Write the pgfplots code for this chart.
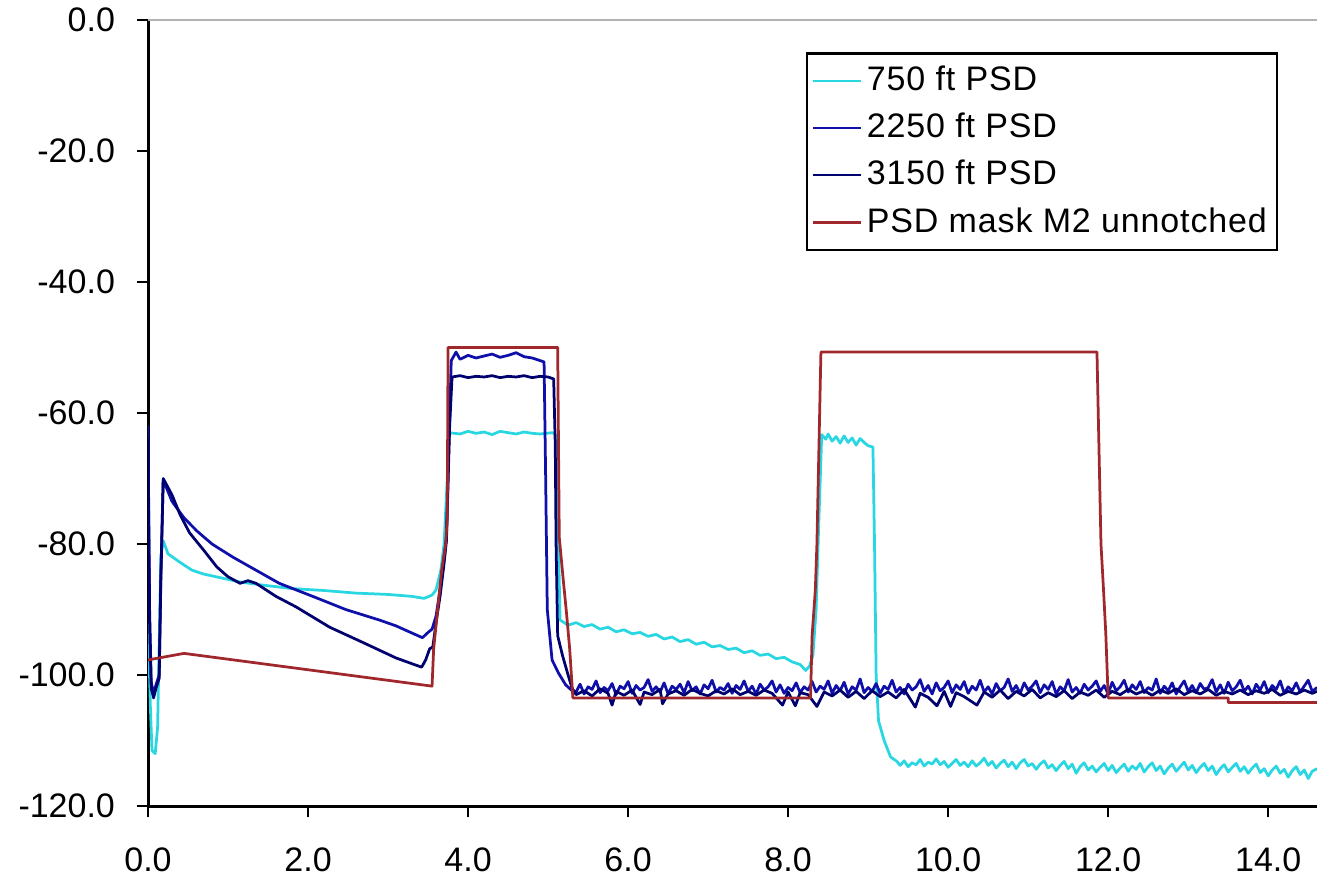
\documentclass[border=0pt]{standalone}
\usepackage{pgfplots}
\pgfplotsset{compat=1.18}
\usepackage{fontspec}
\setmainfont{Liberation Sans}
\newfontfamily\legfont[LetterSpace=2.5]{Liberation Sans}
\definecolor{cyanc}{RGB}{40,215,225}
\definecolor{blueA}{RGB}{15,15,170}
\definecolor{blueB}{RGB}{0,0,110}
\definecolor{maskred}{RGB}{160,40,45}
\begin{document}
\fontsize{13.6}{16}\selectfont
\begin{tikzpicture}
\begin{axis}[
  scale only axis, width=467.6pt, height=314.4pt,
  xmin=0, xmax=14.61, ymin=-120, ymax=0,
  axis lines*=left,
  axis line style={line width=1.2pt, black},
  xtick={0,2,...,14}, ytick={-120,-100,...,0},
  tick align=outside, major tick length=4.5pt,
  tick style={black, line width=0.8pt},
  /pgf/number format/fixed, /pgf/number format/fixed zerofill, /pgf/number format/precision=1,
  /pgf/number format/assume math mode=true,
  ticklabel style={font=\fontsize{13.6}{16}\selectfont},
  yticklabel style={xshift=-4pt},
  xticklabel style={yshift=-7.6pt},
  legend cell align=left,
  legend style={at={(0.9667,0.959)}, anchor=north east, draw=black, line width=1pt,
    font=\legfont\fontsize{13.6}{16}\selectfont, inner xsep=2pt, inner ysep=3pt, row sep=3pt},
  legend image code/.code={\draw[#1, line width=1pt] (0pt,0pt) -- (19pt,0pt);},
  every axis plot/.append style={line width=1.1pt, line join=round, mark=none},
]
\coordinate (bl) at (rel axis cs:0,0);
\draw[gray!60, line width=0.8pt] (rel axis cs:0,1) -- (rel axis cs:1,1);

% 750 ft PSD
\addplot[cyanc] coordinates {
(0,-91)(0.03,-105)(0.05,-111.5)(0.09,-112)(0.12,-108)(0.14,-95)(0.16,-82)(0.19,-79.5)(0.25,-81.5)(0.4,-82.8)(0.55,-84)(0.7,-84.6)(0.85,-85)(1.15,-85.8)(1.45,-86.3)(1.8,-86.8)(2.2,-87.1)(2.6,-87.5)(3.0,-87.7)(3.3,-88)(3.45,-88.3)(3.55,-87.8)(3.6,-87)(3.66,-84)(3.7,-80)(3.74,-70)(3.76,-63)
(3.9,-63.2)(4.0,-62.8)(4.1,-63.1)(4.2,-62.9)(4.3,-63.3)(4.4,-62.8)(4.5,-63)(4.6,-63.2)(4.7,-62.9)(4.8,-63.1)(4.9,-63.2)(5.06,-63)(5.11,-63.5)(5.13,-80)(5.15,-91.6)
(5.25,-92.4)(5.35,-92.0)(5.45,-92.6)(5.55,-92.3)(5.65,-93.0)(5.75,-92.7)(5.85,-93.4)(5.95,-93.1)(6.05,-93.7)(6.15,-93.5)(6.25,-94.1)(6.35,-93.8)(6.45,-94.5)(6.55,-94.2)(6.65,-94.9)(6.75,-94.6)(6.85,-95.3)(6.95,-95.0)(7.05,-95.7)(7.15,-95.5)(7.25,-96.1)(7.35,-95.9)(7.45,-96.6)(7.55,-96.3)(7.65,-97.0)(7.75,-96.8)(7.85,-97.5)(7.95,-97.3)(8.05,-98.0)(8.15,-98.4)(8.22,-99.3)(8.27,-98.6)
(8.31,-97)(8.35,-90)(8.38,-78)(8.42,-63.3)(8.47,-64)(8.5,-63.2)(8.55,-64.3)(8.6,-63.6)(8.65,-64.6)(8.7,-63.5)(8.75,-64.5)(8.8,-63.8)(8.85,-64.9)(8.9,-63.9)(8.95,-64.5)(9.0,-65)(9.06,-65.2)(9.08,-80)(9.1,-100)(9.13,-107)(9.2,-110)(9.28,-112.5)
(9.36,-113.2)(9.40,-113.8)(9.45,-113.1)(9.50,-114.0)(9.55,-113.4)(9.60,-113.7)(9.65,-112.9)(9.70,-113.9)(9.75,-113.3)(9.80,-113.6)(9.85,-112.8)(9.90,-113.7)(9.95,-113.2)
(10.00,-114.1)(10.05,-113.5)(10.10,-112.9)(10.15,-113.8)(10.20,-113.3)(10.25,-114.0)(10.30,-113.1)(10.35,-113.9)(10.40,-113.4)(10.45,-112.7)(10.50,-113.8)(10.55,-113.2)(10.60,-114.2)(10.65,-113.5)(10.70,-113.0)(10.75,-114.0)(10.80,-113.3)(10.85,-114.3)(10.90,-113.4)(10.95,-112.9)
(11.00,-113.9)(11.05,-113.5)(11.10,-114.4)(11.15,-113.6)(11.20,-113.1)(11.25,-114.2)(11.30,-113.7)(11.35,-114.6)(11.40,-113.8)(11.45,-113.2)(11.50,-114.3)(11.55,-113.6)(11.60,-115.0)(11.65,-114.0)(11.70,-113.4)(11.75,-114.5)(11.80,-113.9)(11.85,-114.8)(11.90,-114.1)(11.95,-113.5)
(12.00,-114.6)(12.05,-113.8)(12.10,-114.9)(12.15,-114.2)(12.20,-113.6)(12.25,-114.7)(12.30,-113.9)(12.35,-114.4)(12.40,-113.5)(12.45,-114.8)(12.50,-114.0)(12.55,-113.4)(12.60,-114.6)(12.65,-113.9)(12.70,-115.1)(12.75,-114.2)(12.80,-113.6)(12.85,-114.7)(12.90,-114.0)(12.95,-113.3)
(13.00,-114.5)(13.05,-113.8)(13.10,-114.9)(13.15,-114.1)(13.20,-113.5)(13.25,-114.6)(13.30,-113.9)(13.35,-115.2)(13.40,-114.3)(13.45,-113.7)(13.50,-114.8)(13.55,-114.1)(13.60,-113.5)(13.65,-114.7)(13.70,-114.0)(13.75,-115.0)(13.80,-114.2)(13.85,-113.6)(13.90,-114.9)(13.95,-114.3)
(14.00,-115.4)(14.05,-114.5)(14.10,-113.9)(14.15,-115.0)(14.20,-114.4)(14.25,-115.6)(14.30,-114.6)(14.35,-114.0)(14.40,-115.2)(14.45,-114.5)(14.50,-115.8)(14.55,-114.7)(14.61,-114.3)
};
\addlegendentry{750 ft PSD}

% 2250 ft PSD
\addplot[blueA] coordinates {
(0,-62)(0.02,-90)(0.04,-101)(0.07,-103)(0.1,-101.5)(0.14,-100)(0.16,-85)(0.19,-70.2)(0.3,-73.5)(0.45,-76)(0.61,-78)(0.8,-80)(1.06,-82)(1.35,-84)(1.64,-86)(2.06,-88)(2.47,-90)(2.89,-91.6)(3.1,-92.5)(3.3,-93.6)(3.43,-94.3)(3.5,-93.5)(3.55,-93)(3.6,-91)(3.65,-87)(3.7,-82)(3.73,-79)(3.76,-65)(3.79,-52)
(3.85,-50.7)(3.9,-51.8)(4.0,-51.2)(4.1,-51.6)(4.2,-51.3)(4.3,-51)(4.4,-51.5)(4.5,-51.2)(4.6,-50.8)(4.7,-51.4)(4.8,-51.6)(4.9,-52)(4.95,-52.2)(4.97,-70)(4.99,-90)(5.05,-97.7)(5.13,-99.7)(5.22,-101.5)(5.3,-102.4)
(5.35,-102.6)(5.40,-101.4)(5.45,-102.9)(5.50,-101.8)(5.55,-102.2)(5.60,-100.9)(5.65,-102.7)(5.70,-101.9)(5.75,-102.4)(5.80,-101.3)(5.85,-103.0)(5.90,-101.7)(5.95,-102.1)
(6.00,-101.0)(6.05,-102.8)(6.10,-101.6)(6.15,-102.3)(6.20,-101.9)(6.25,-100.7)(6.30,-102.5)(6.35,-101.8)(6.40,-102.6)(6.45,-101.2)(6.50,-102.9)(6.55,-101.7)(6.60,-102.2)(6.65,-101.4)(6.70,-102.7)(6.75,-101.0)(6.80,-102.4)(6.85,-101.8)(6.90,-102.9)(6.95,-101.5)
(7.00,-102.1)(7.05,-100.8)(7.10,-102.6)(7.15,-101.9)(7.20,-102.3)(7.25,-101.3)(7.30,-102.8)(7.35,-101.6)(7.40,-102.2)(7.45,-100.9)(7.50,-102.5)(7.55,-101.7)(7.60,-102.9)(7.65,-101.4)(7.70,-102.3)(7.75,-101.8)(7.80,-100.9)(7.85,-102.6)(7.90,-101.5)(7.95,-102.8)
(8.00,-101.9)(8.05,-102.4)(8.10,-101.2)(8.15,-102.7)(8.20,-101.8)(8.25,-102.3)(8.30,-101.0)(8.35,-102.6)(8.40,-101.7)(8.45,-102.2)(8.50,-100.9)(8.55,-102.8)(8.60,-101.6)(8.65,-102.4)(8.70,-101.1)(8.75,-102.9)(8.80,-101.8)(8.85,-102.3)(8.90,-100.6)(8.95,-102.7)
(9.00,-101.9)(9.05,-102.5)(9.10,-101.3)(9.15,-102.8)(9.20,-101.7)(9.25,-102.2)(9.30,-100.8)(9.35,-102.6)(9.40,-101.9)(9.45,-102.9)(9.50,-101.4)(9.55,-102.3)(9.60,-101.8)(9.65,-100.7)(9.70,-102.5)(9.75,-101.6)(9.80,-102.9)(9.85,-101.2)(9.90,-102.4)(9.95,-101.9)
(10.00,-100.9)(10.05,-102.7)(10.10,-101.5)(10.15,-102.2)(10.20,-101.0)(10.25,-102.8)(10.30,-101.7)(10.35,-102.3)(10.40,-100.8)(10.45,-102.6)(10.50,-101.8)(10.55,-102.9)(10.60,-101.3)(10.65,-102.4)(10.70,-101.9)(10.75,-100.6)(10.80,-102.5)(10.85,-101.6)(10.90,-102.8)(10.95,-101.2)
(11.00,-102.3)(11.05,-101.7)(11.10,-100.9)(11.15,-102.7)(11.20,-101.5)(11.25,-102.2)(11.30,-101.0)(11.35,-102.9)(11.40,-101.8)(11.45,-102.4)(11.50,-100.7)(11.55,-102.6)(11.60,-101.9)(11.65,-102.8)(11.70,-101.4)(11.75,-102.3)(11.80,-101.7)(11.85,-100.9)(11.90,-102.5)(11.95,-101.6)
(12.00,-102.9)(12.05,-101.1)(12.10,-102.4)(12.15,-101.8)(12.20,-100.8)(12.25,-102.6)(12.30,-101.5)(12.35,-102.2)(12.40,-101.0)(12.45,-102.7)(12.50,-101.9)(12.55,-102.3)(12.60,-100.6)(12.65,-102.8)(12.70,-101.7)(12.75,-102.4)(12.80,-101.2)(12.85,-102.9)(12.90,-101.8)(12.95,-100.9)
(13.00,-102.5)(13.05,-101.6)(13.10,-102.7)(13.15,-101.3)(13.20,-102.2)(13.25,-101.9)(13.30,-100.7)(13.35,-102.6)(13.40,-101.5)(13.45,-102.8)(13.50,-101.1)(13.55,-102.4)(13.60,-101.8)(13.65,-100.8)(13.70,-102.5)(13.75,-101.7)(13.80,-102.9)(13.85,-101.4)(13.90,-102.3)(13.95,-101.0)
(14.00,-102.7)(14.05,-101.6)(14.10,-102.2)(14.15,-100.9)(14.20,-102.8)(14.25,-101.8)(14.30,-102.4)(14.35,-101.2)(14.40,-102.6)(14.45,-101.7)(14.50,-100.8)(14.55,-102.5)(14.61,-101.9)
};
\addlegendentry{2250 ft PSD}

% 3150 ft PSD
\addplot[blueB] coordinates {
(0,-64)(0.02,-92)(0.04,-102)(0.07,-103.5)(0.1,-102)(0.14,-100.5)(0.16,-86)(0.19,-70)(0.3,-72.5)(0.4,-75.5)(0.52,-78.3)(0.7,-81)(0.86,-83.5)(1.0,-85)(1.15,-86)(1.25,-85.6)(1.35,-86)(1.6,-88)(1.85,-89.6)(2.27,-92.7)(2.68,-95)(3.1,-97.4)(3.35,-98.5)(3.42,-98.8)(3.47,-97.7)(3.52,-96)(3.56,-95.7)(3.6,-92)(3.65,-88)(3.7,-83)(3.73,-79.5)(3.77,-62)(3.8,-54.5)
(3.9,-54.3)(4.0,-54.6)(4.1,-54.4)(4.2,-54.5)(4.3,-54.3)(4.4,-54.6)(4.5,-54.4)(4.6,-54.5)(4.7,-54.3)(4.8,-54.6)(4.9,-54.4)(5.0,-54.5)(5.07,-54.8)(5.09,-65)(5.1,-80)(5.12,-94)(5.18,-97)(5.25,-100)(5.3,-102)
(5.35,-103.0)(5.45,-102.4)(5.55,-103.2)(5.65,-102.1)(5.75,-102.8)(5.80,-104.6)(5.85,-102.5)(5.95,-103.1)(6.05,-102.3)(6.15,-104.5)(6.20,-102.6)(6.30,-103.0)(6.40,-102.2)(6.43,-104.4)(6.50,-102.9)(6.60,-102.4)(6.70,-103.1)(6.80,-102.2)(6.90,-102.8)
(7.00,-103.2)(7.10,-102.4)(7.20,-102.9)(7.30,-102.1)(7.40,-103.0)(7.50,-102.5)(7.60,-103.1)(7.70,-102.3)(7.80,-102.8)(7.93,-104.6)(8.00,-102.6)(8.09,-104.7)(8.15,-102.7)(8.25,-103.0)(8.36,-104.8)(8.45,-102.6)(8.55,-103.2)(8.65,-102.3)(8.75,-103.4)(8.85,-102.5)(8.95,-103.6)
(9.05,-102.4)(9.15,-103.3)(9.25,-102.6)(9.35,-103.5)(9.45,-102.2)(9.59,-104.9)(9.65,-102.8)(9.75,-103.4)(9.86,-104.7)(9.95,-102.5)(10.03,-104.8)(10.10,-102.7)(10.20,-103.3)(10.36,-104.6)(10.45,-102.6)(10.55,-103.4)(10.65,-102.3)(10.75,-103.6)(10.85,-102.5)(10.95,-103.2)
(11.05,-102.2)(11.15,-103.5)(11.25,-102.7)(11.35,-103.3)(11.45,-102.4)(11.55,-103.6)(11.65,-102.6)(11.75,-103.1)(11.85,-102.3)(11.95,-103.4)(12.05,-102.5)(12.15,-103.0)(12.25,-102.2)(12.35,-102.9)(12.45,-102.4)(12.55,-103.1)(12.65,-102.3)(12.75,-102.8)(12.85,-102.1)(12.95,-103.0)
(13.05,-102.4)(13.15,-102.9)(13.25,-102.2)(13.35,-103.1)(13.45,-102.5)(13.55,-102.9)(13.65,-102.3)(13.75,-103.0)(13.85,-102.4)(13.95,-102.8)(14.05,-102.2)(14.15,-103.1)(14.25,-102.5)(14.35,-102.9)(14.45,-102.3)(14.55,-102.8)(14.61,-102.5)
};
\addlegendentry{3150 ft PSD}

% PSD mask M2 unnotched
\addplot[maskred] coordinates {
(0,-97.7)(0.45,-96.7)(3.55,-101.7)(3.57,-96)(3.62,-90)(3.67,-84)(3.72,-80)(3.74,-76)(3.75,-50)(5.12,-50)(5.14,-79)(5.19,-85.5)(5.23,-90.5)(5.27,-96)(5.31,-103.5)(8.28,-103.5)(8.30,-94)(8.34,-87)(8.36,-80)(8.41,-50.7)(11.86,-50.7)(11.91,-80)(11.94,-86.6)(11.97,-93.6)(12.0,-103.5)(13.5,-103.5)(13.5,-104.2)(14.61,-104.2)
};
\addlegendentry{PSD mask M2 unnotched}
\end{axis}
\pgfresetboundingbox
\path[use as bounding box] (bl) ++(-59.2pt,-28.8pt) rectangle ++(526.8pt,351.2pt);
\end{tikzpicture}
\end{document}
